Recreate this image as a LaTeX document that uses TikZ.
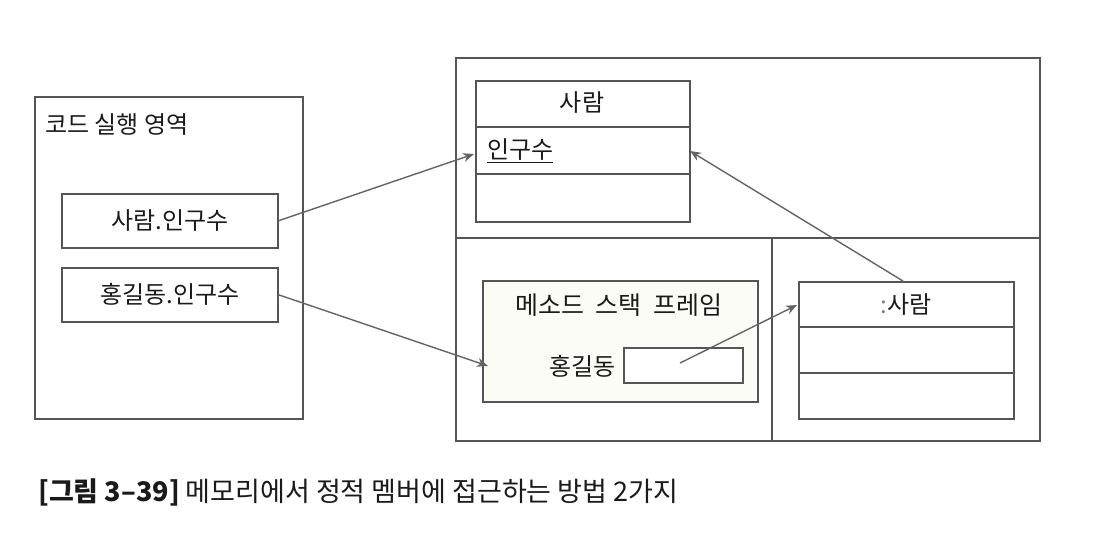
\documentclass[tikz,border=0pt]{standalone}
\usepackage{fontspec}
\setmainfont{Noto Sans CJK KR}
\usetikzlibrary{arrows.meta}
\definecolor{boxline}{HTML}{555555}
\definecolor{arrline}{HTML}{646464}
\definecolor{txt}{HTML}{1A1A1A}
\definecolor{framefill}{HTML}{FCFCF7}
\begin{document}
\begin{tikzpicture}[x=1pt,y=-1pt,
  box/.style={draw=boxline, line width=1.5pt, fill=white, inner sep=0pt, anchor=north west,
              font=\fontsize{24}{28}\selectfont, text=txt},
  lbl/.style={font=\fontsize{24}{28}\selectfont, text=txt, inner sep=0pt},
  divline/.style={draw=boxline, line width=1.5pt},
  arr/.style={draw=arrline, line width=1.4pt, -{Stealth[length=11pt,width=9pt]}}]
\useasboundingbox (0,0) rectangle (1116,550);

% code execution area
\node[box, minimum width=268pt, minimum height=322pt] (code) at (34,96) {};
\node[lbl, anchor=west] (codeT) at (45,125) {코드 실행 영역};
\node[box, minimum width=216pt, minimum height=54pt] (acc1) at (61,193) {사람.인구수};
\node[box, minimum width=216pt, minimum height=54pt] (acc2) at (61,267) {홍길동.인구수};

% memory area
\node[box, minimum width=584pt, minimum height=383pt] (mem) at (455,57) {};
\coordinate (hL) at (455,238);
\coordinate (hR) at (1039,238);
\coordinate (vT) at (772,238);
\coordinate (vB) at (772,440);
\draw[divline] (hL) -- (hR);
\draw[divline] (vT) -- (vB);

% class box
\node[box, minimum width=214pt, minimum height=141pt] (cls) at (475,80) {};
\draw[divline] (475,127) -- (689,127);
\draw[divline] (475,174) -- (689,174);
\node[lbl] (clsT) at (582,103) {사람};
\node[lbl, anchor=west] (pop) at (487,151) {\underline{인구수}};
\coordinate (popW) at (474,154);
\coordinate (popE) at (690,151);

% method stack frame
\node[box, fill=framefill, minimum width=275pt, minimum height=121pt] (frame) at (482,280) {};
\node[lbl, font=\fontsize{25}{29}\selectfont] (frameT) at (619,305) {메소드\hspace{0.45em}스택\hspace{0.45em}프레임};
\node[lbl, anchor=east] (hgd) at (616,366) {홍길동};
\node[box, minimum width=119pt, minimum height=35pt] (var) at (623,347) {};
\coordinate (varP) at (680,363);
\coordinate (a2tip) at (488,366);

% object box
\node[box, minimum width=215pt, minimum height=137pt] (obj) at (798,281) {};
\draw[divline] (798,327) -- (1013,327);
\draw[divline] (798,373) -- (1013,373);
\node[lbl] (objT) at (906,305) {\textcolor{gray}{:}사람};
\coordinate (objW) at (797,305);
\coordinate (objN) at (903,281);

% connectors
\draw[arr] (acc1.east) -- (popW);
\draw[arr] (acc2.east) -- (a2tip);
\draw[arr] (varP) -- (objW);
\draw[arr] (objN) -- (popE);

% caption
\node[anchor=west, font=\fontsize{27}{31}\selectfont, text=txt, inner sep=0pt] (cap) at (38,492)
  {\textbf{[그림 3–39]} 메모리에서 정적 멤버에 접근하는 방법 2가지};
\end{tikzpicture}
\end{document}
